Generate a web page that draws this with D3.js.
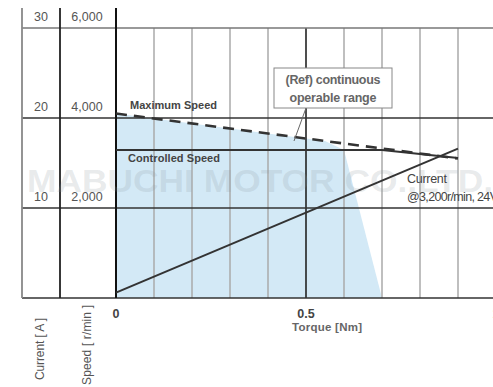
<!DOCTYPE html>
<html><head><meta charset="utf-8">
<script src="https://cdn.jsdelivr.net/npm/d3@7"></script>
<style>body{margin:0;background:#fff}svg{display:block}</style>
</head><body>
<script>
// ---- data ----
const torqueTicks = [0, 0.5, 1];
const torqueGrid = [0,0.1,0.2,0.3,0.4,0.5,0.6,0.7,0.8,0.9,1];
const speedTicks = [2000, 4000, 6000];
const speedTickLabels = ["2,000", "4,000", "6,000"];
const currentTickLabels = ["10", "20", "30"];
const maxSpeed = [{t:0, s:4100}, {t:0.9, s:3100}];
const controlledSpeed = [{t:0, s:3290}, {t:0.7, s:3290}, {t:0.9, s:3110}];
const current = [{t:0, a:0.6}, {t:0.9, a:16.6}];
const operableRange = [{t:0,s:0},{t:0,s:4100},{t:0.55,s:3490},{t:0.6,s:3290},{t:0.7,s:0}];

const W=493,H=387;
const svg=d3.select("body").append("svg").attr("width",W).attr("height",H);
const x=d3.scaleLinear().domain([0,1]).range([116,496]);
const y=d3.scaleLinear().domain([0,6000]).range([298,28]);
const yc=d3.scaleLinear().domain([0,30]).range([298,28]);
const font="'Liberation Sans', Arial, sans-serif";

// operable range fill
svg.append("path").datum(operableRange)
  .attr("d",d3.line().x(d=>x(d.t)).y(d=>y(d.s)))
  .attr("fill","#d3e9f6");

// vertical grid
svg.selectAll(".vg").data(torqueGrid).enter().append("line")
  .attr("x1",d=>x(d)).attr("x2",d=>x(d)).attr("y1",y(6000)).attr("y2",y(0))
  .attr("stroke",d=>d===0.5?"#222":"#aaa").attr("stroke-width",d=>d===0.5?1.6:1.5);

// horizontal lines
svg.selectAll(".hg").data([0,2000,4000,6000]).enter().append("line")
  .attr("x1",22).attr("x2",W).attr("y1",d=>y(d)).attr("y2",d=>y(d))
  .attr("stroke",d=>d===6000?"#777":"#333").attr("stroke-width",1.5);

// left axis lines
svg.append("line").attr("x1",22).attr("x2",22).attr("y1",8).attr("y2",y(0)).attr("stroke","#888").attr("stroke-width",1.8);
svg.append("line").attr("x1",60).attr("x2",60).attr("y1",8).attr("y2",y(0)).attr("stroke","#222").attr("stroke-width",1.8);
svg.append("line").attr("x1",x(0)).attr("x2",x(0)).attr("y1",8).attr("y2",y(0)).attr("stroke","#111").attr("stroke-width",2);

// watermark
svg.append("text").attr("x",27).attr("y",192).attr("textLength",466).attr("lengthAdjust","spacingAndGlyphs")
  .attr("font-family",font).attr("font-size",31).attr("font-weight","bold")
  .attr("fill","#8a969e").attr("fill-opacity",0.2).text("MABUCHI MOTOR CO.,LTD.");

// tick labels
svg.selectAll(".sl").data(speedTicks).enter().append("text")
  .attr("x",87).attr("y",d=>y(d)-7).attr("text-anchor","middle")
  .attr("font-family",font).attr("font-size",12.5).attr("fill","#555")
  .text((d,i)=>speedTickLabels[i]);
svg.selectAll(".cl").data(speedTicks).enter().append("text")
  .attr("x",41).attr("y",d=>y(d)-7).attr("text-anchor","middle")
  .attr("font-family",font).attr("font-size",12.5).attr("fill","#555")
  .text((d,i)=>currentTickLabels[i]);
svg.selectAll(".tl").data(torqueTicks).enter().append("text")
  .attr("x",d=>x(d)).attr("y",318).attr("text-anchor","middle")
  .attr("font-family",font).attr("font-size",12.5).attr("font-weight","bold").attr("fill","#444")
  .text(d=>d);

// axis titles
svg.append("text").attr("x",x(0.5)+21).attr("y",331).attr("text-anchor","middle")
  .attr("font-family",font).attr("font-size",11.5).attr("font-weight","bold").attr("fill","#666")
  .attr("textLength",70).text("Torque [Nm]");
svg.append("text").attr("transform","translate(44,349) rotate(-90)").attr("text-anchor","middle")
  .attr("font-family",font).attr("font-size",12).attr("fill","#555").attr("textLength",62).text("Current [ A ]");
svg.append("text").attr("transform","translate(91,345) rotate(-90)").attr("text-anchor","middle")
  .attr("font-family",font).attr("font-size",12).attr("fill","#555").attr("textLength",80).text("Speed [ r/min ]");

// lines
const ls=d3.line().x(d=>x(d.t)).y(d=>y(d.s));
svg.append("path").datum(controlledSpeed).attr("d",ls).attr("fill","none").attr("stroke","#333").attr("stroke-width",2);
svg.append("path").datum(maxSpeed).attr("d",ls).attr("fill","none").attr("stroke","#333").attr("stroke-width",2.6).attr("stroke-dasharray","11,7");
svg.append("path").datum(current).attr("d",d3.line().x(d=>x(d.t)).y(d=>yc(d.a)))
  .attr("fill","none").attr("stroke","#333").attr("stroke-width",2);

// labels
svg.append("text").attr("x",130).attr("y",109).attr("font-family",font).attr("font-size",11).attr("font-weight","bold").attr("fill","#444").attr("textLength",87).text("Maximum Speed");
svg.append("text").attr("x",128).attr("y",162).attr("font-family",font).attr("font-size",11).attr("font-weight","bold").attr("fill","#444").attr("textLength",92).text("Controlled Speed");
svg.append("text").attr("x",407).attr("y",183).attr("font-family",font).attr("font-size",12.5).attr("fill","#444").attr("textLength",40).text("Current");
svg.append("text").attr("x",407).attr("y",201).attr("font-family",font).attr("font-size",12.5).attr("fill","#444").attr("textLength",91).text("@3,200r/min, 24V");

// annotation box
svg.append("line").attr("x1",306).attr("y1",108).attr("x2",294).attr("y2",141).attr("stroke","#666").attr("stroke-width",1);
svg.append("rect").attr("x",274).attr("y",68).attr("width",118).attr("height",40).attr("fill","#fff").attr("stroke","#888").attr("stroke-width",1);
svg.append("text").attr("x",333).attr("y",84).attr("text-anchor","middle").attr("font-family",font).attr("font-size",12.5).attr("font-weight","bold").attr("fill","#666").attr("textLength",95).text("(Ref) continuous");
svg.append("text").attr("x",333).attr("y",102).attr("text-anchor","middle").attr("font-family",font).attr("font-size",12.5).attr("font-weight","bold").attr("fill","#666").attr("textLength",87).text("operable range");
</script>
</body></html>
